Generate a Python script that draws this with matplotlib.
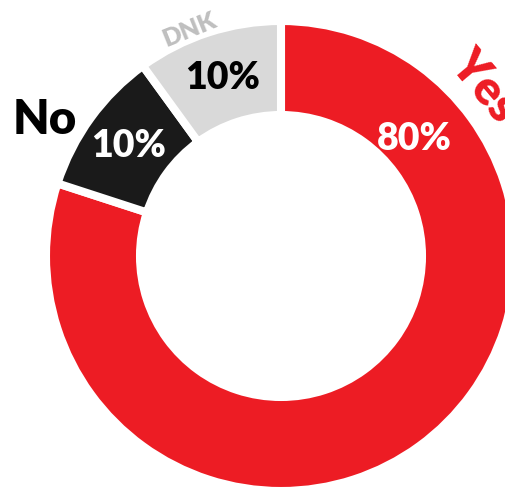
import numpy as np
import matplotlib.pyplot as plt

labels = ['Yes', 'No', 'DNK']
values = [80, 10, 10]
colors = ['#ED1C24', '#1A1A1A', '#D9D9D9']
pct_text = ['80%', '10%', '10%']

plt.rcParams['font.family'] = ['Lato', 'DejaVu Sans']

# figure in pixel units: donut centre at (281, 257) px from top-left
fig = plt.figure(figsize=(5.06, 4.89), dpi=100)
ax = fig.add_axes([0, 0, 1, 1])

wedges, _ = ax.pie(values, colors=colors, startangle=90, counterclock=False,
                   radius=235, wedgeprops=dict(width=94, edgecolor='white', linewidth=5.8))

ax.set_xlim(-281, 225)
ax.set_ylim(-232, 257)
ax.set_aspect('auto')
ax.axis('off')

def polar(angle, r):
    # angle in degrees clockwise from 12 o'clock
    a = np.deg2rad(angle)
    return r * np.sin(a), r * np.cos(a)

# percentages inside the ring
pct_pos = [(48.6, 178), (-54, 188), (-18, 188)]
pct_colors = ['white', 'white', 'black']
for t, (a, r), c in zip(pct_text, pct_pos, pct_colors):
    x, y = polar(a, r)
    ax.text(x, y, t, color=c, fontsize=27, fontweight='heavy', ha='center', va='center')

# category names outside
x, y = polar(50, 266)
ax.text(x, y, labels[0], color=colors[0], fontsize=34, fontweight='heavy',
        ha='center', va='center', rotation=-50)
ax.text(-236, 137, labels[1], color='black', fontsize=34, fontweight='heavy',
        ha='center', va='center')
x, y = polar(-22, 245)
ax.text(x, y, labels[2], color='#BFBFBF', fontsize=18, fontweight='heavy',
        ha='center', va='center', rotation=22)

fig.savefig('out.png', dpi=100)
